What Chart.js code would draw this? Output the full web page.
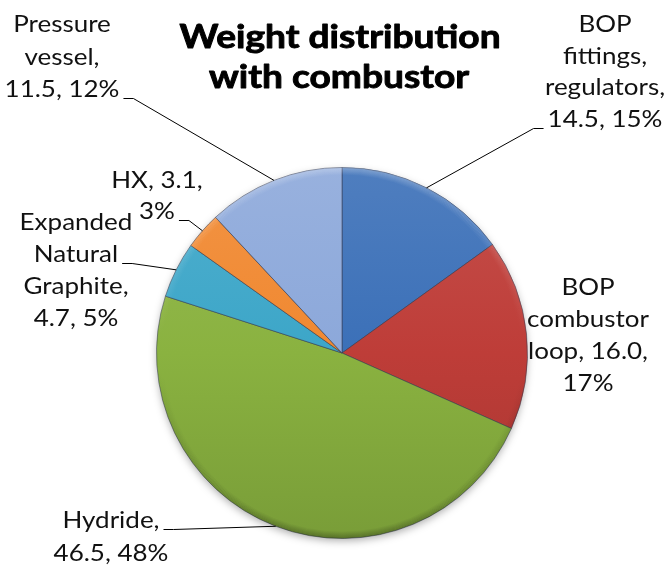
<!DOCTYPE html>
<html>
<head>
<meta charset="utf-8">
<title>Weight distribution with combustor</title>
<script src="https://cdn.jsdelivr.net/npm/chart.js@4/dist/chart.umd.min.js"></script>
<style>
  html, body { margin: 0; padding: 0; background: #ffffff; }
  #wrap { width: 670px; height: 565px; }
</style>
</head>
<body>
<div id="wrap"><canvas id="chart" width="670" height="565"></canvas></div>
<script>
// Component weights, clockwise from 12 o'clock
const categories = ['BOP fittings, regulators', 'BOP combustor loop', 'Hydride',
                    'Expanded Natural Graphite', 'HX', 'Pressure vessel'];
const weights = [14.5, 16.0, 46.5, 4.7, 3.1, 11.5];
const sliceColors = ['#3b70b8', '#be3d38', '#8ab240', '#3ca6c8', '#f08830', '#8ca8da'];
const titleLines = ['Weight distribution', 'with combustor'];

// Where each data label sits and how its words break into lines
const labelLayout = [
  { cx: 605, base: 32,  lh: 31.7, words: [1, 1, 1, 2], tick: 'left',  tickLine: 3 },
  { cx: 588, base: 295, lh: 32,   words: [1, 1, 2, 1], tick: null },
  { cx: 111, base: 528, lh: 33,   words: [1, 2],       tick: 'right', tickLine: 0 },
  { cx: 76,  base: 230, lh: 32,   words: [1, 1, 1, 2], tick: 'right', tickLine: 1 },
  { cx: 157, base: 188, lh: 30.5, words: [2, 1],       tick: 'right', tickLine: 1 },
  { cx: 62,  base: 32,  lh: 32.5, words: [1, 1, 2],    tick: 'right', tickLine: 2 }
];

const FONT = 'Lato, "Open Sans", sans-serif';
const LABEL_FONT = `23px ${FONT}`;
const LABEL_SX = 1.13;   // slightly widened lettering
const TITLE_FONT = `bold 32px ${FONT}`;
const TITLE_SX = 1.16;
const total = weights.reduce((a, b) => a + b, 0);

function mix(hex, amt) {
  const n = parseInt(hex.slice(1), 16);
  let r = (n >> 16) & 255, g = (n >> 8) & 255, b = n & 255;
  const t = amt > 0 ? 255 : 0, p = Math.abs(amt);
  r = Math.round(r + (t - r) * p); g = Math.round(g + (t - g) * p); b = Math.round(b + (t - b) * p);
  return `rgb(${r},${g},${b})`;
}

function labelText(i) {
  const pct = Math.round(weights[i] / total * 100);
  return `${categories[i]}, ${weights[i].toFixed(1)}, ${pct}%`;
}

function splitLines(text, counts) {
  const words = text.split(' ');
  const lines = [];
  let k = 0;
  counts.forEach(c => { lines.push(words.slice(k, k + c).join(' ')); k += c; });
  return lines;
}

function wideText(ctx, text, x, y, sx, stroke) {
  ctx.save();
  ctx.translate(x, y);
  ctx.scale(sx, 1);
  ctx.fillText(text, 0, 0);
  if (stroke) ctx.strokeText(text, 0, 0);
  ctx.restore();
  return ctx.measureText(text).width * sx;
}

const pieDecor = {
  id: 'pieDecor',
  beforeDatasetsDraw(chart) {
    const el = chart.getDatasetMeta(0).data[0];
    if (!el) return;
    const { x, y, outerRadius } = el.getProps(['x', 'y', 'outerRadius'], true);
    const ctx = chart.ctx;
    ctx.save();
    ctx.shadowColor = 'rgba(0,0,0,0.35)';
    ctx.shadowBlur = 8;
    ctx.shadowOffsetY = 3;
    ctx.beginPath();
    ctx.arc(x, y, outerRadius - 1, 0, Math.PI * 2);
    ctx.fillStyle = '#7a7a7a';
    ctx.fill();
    ctx.restore();
  },
  afterDatasetsDraw(chart) {
    const ctx = chart.ctx;
    const meta = chart.getDatasetMeta(0);
    const first = meta.data[0];
    if (!first) return;
    const { x: cx, y: cy, outerRadius: R } = first.getProps(['x', 'y', 'outerRadius'], true);

    // soft bevel along the rim: lit from above, shaded below
    ctx.save();
    for (let i = 0; i < 7; i++) {
      const a = 0.28 * (1 - i / 7);
      const g = ctx.createLinearGradient(0, cy - R, 0, cy + R);
      g.addColorStop(0, `rgba(255,255,255,${a})`);
      g.addColorStop(0.45, 'rgba(255,255,255,0)');
      g.addColorStop(0.55, 'rgba(0,0,0,0)');
      g.addColorStop(1, `rgba(0,0,0,${a})`);
      ctx.strokeStyle = g;
      ctx.lineWidth = 1;
      ctx.beginPath();
      ctx.arc(cx, cy, R - 0.5 - i, 0, Math.PI * 2);
      ctx.stroke();
    }
    ctx.restore();

    // title, with a hairline stroke for extra weight
    ctx.save();
    ctx.fillStyle = '#000';
    ctx.strokeStyle = '#000';
    ctx.lineWidth = 0.9;
    ctx.lineJoin = 'round';
    ctx.textAlign = 'center';
    ctx.textBaseline = 'alphabetic';
    ctx.font = TITLE_FONT;
    wideText(ctx, titleLines[0], 340, 48, TITLE_SX, true);
    wideText(ctx, titleLines[1], 339, 88, TITLE_SX, true);
    ctx.restore();

    // data labels with leader lines
    ctx.save();
    ctx.font = LABEL_FONT;
    ctx.fillStyle = '#111';
    ctx.textAlign = 'center';
    ctx.textBaseline = 'alphabetic';
    meta.data.forEach((arc, i) => {
      const L = labelLayout[i];
      const lines = splitLines(labelText(i), L.words);
      const widths = lines.map((t, j) => wideText(ctx, t, L.cx, L.base + j * L.lh, LABEL_SX, false));
      if (!L.tick) return;
      const p = arc.getProps(['x', 'y', 'startAngle', 'endAngle', 'outerRadius'], true);
      const mid = (p.startAngle + p.endAngle) / 2;
      const ex = p.x + Math.cos(mid) * p.outerRadius;
      const ey = p.y + Math.sin(mid) * p.outerRadius;
      const w = widths[L.tickLine];
      const ty = Math.round(L.base + L.tickLine * L.lh) + 1.5;
      let x0, x1;
      if (L.tick === 'right') { x0 = L.cx + w / 2 + 4; x1 = x0 + 10; }
      else { x0 = L.cx - w / 2 - 4; x1 = x0 - 10; }
      ctx.strokeStyle = '#000';
      ctx.lineWidth = 1;
      ctx.beginPath();
      ctx.moveTo(x0, ty);
      ctx.lineTo(x1, ty);
      ctx.lineTo(ex, ey);
      ctx.stroke();
    });
    ctx.restore();
  }
};

new Chart(document.getElementById('chart'), {
  type: 'pie',
  data: {
    labels: categories,
    datasets: [{
      data: weights,
      backgroundColor(c) {
        const base = sliceColors[c.dataIndex];
        const area = c.chart.chartArea;
        if (!area) return base;
        const g = c.chart.ctx.createLinearGradient(0, area.top, 0, area.bottom);
        g.addColorStop(0, mix(base, 0.1));
        g.addColorStop(0.5, base);
        g.addColorStop(1, mix(base, -0.12));
        return g;
      },
      borderColor: 'rgba(55,60,80,0.55)',
      borderWidth: 1
    }]
  },
  options: {
    responsive: false,
    animation: false,
    layout: { padding: { top: 167, bottom: 26, left: 150, right: 136 } },
    plugins: {
      legend: { display: false },
      tooltip: { enabled: false },
      title: { display: false }
    }
  },
  plugins: [pieDecor]
});
</script>
</body>
</html>
